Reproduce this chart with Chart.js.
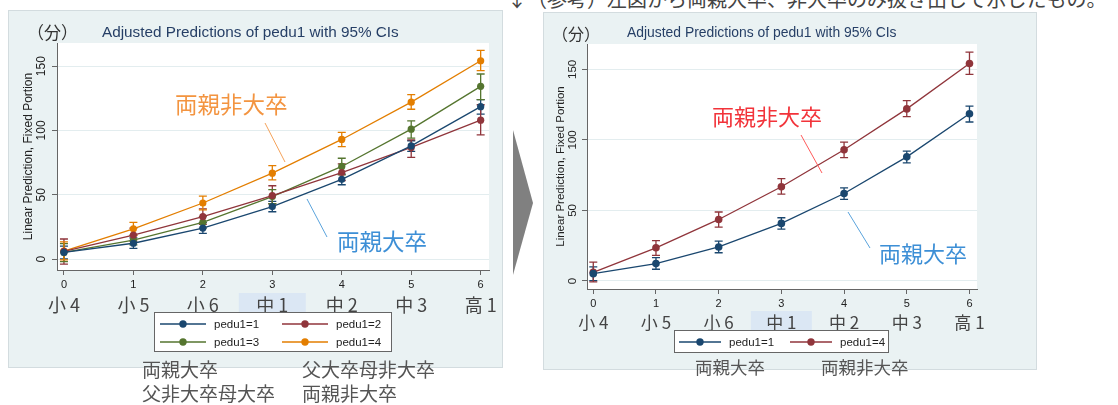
<!DOCTYPE html>
<html>
<head>
<meta charset="utf-8">
<script src="https://cdn.jsdelivr.net/npm/chart.js@4/dist/chart.umd.min.js"></script>
<style>
  body { margin:0; width:1118px; height:405px; background:#fff; position:relative; overflow:hidden;
         font-family:"Noto Sans CJK JP", sans-serif; }
  .abs { position:absolute; white-space:nowrap; line-height:1; }
  .panel { position:absolute; background:#eaf2f3; border:1px solid #d3dcdf; box-sizing:border-box; }
  .ttl { font-family:"Liberation Sans", Arial, sans-serif; color:#263f66; }
  .unit { color:#333; }
  .note { color:#555; }
  .legend { position:absolute; background:#fff; border:1px solid #666; box-sizing:border-box; }
  .legend .it { position:absolute; font:11.5px "Liberation Sans", Arial, sans-serif; color:#222; display:flex; align-items:center; }
  canvas { position:absolute; }
</style>
</head>
<body>
<div class="abs note" style="left:507px;top:-11px;font-size:20px;color:#444;">↓（参考）左図から両親大卒、非大卒のみ抜き出して示したもの。</div>

<div class="panel" style="left:8px;top:10px;width:495px;height:358px;"></div>
<div class="panel" style="left:543px;top:12px;width:494px;height:358px;"></div>

<canvas id="left" width="495" height="358" style="left:8px;top:10px;"></canvas>
<canvas id="right" width="494" height="358" style="left:543px;top:12px;"></canvas>

<div class="abs unit" style="left:27px;top:23px;font-size:17px;">（分）</div>
<div class="abs ttl" style="left:102px;top:24px;font-size:15.3px;">Adjusted Predictions of pedu1 with 95% CIs</div>
<div class="abs unit" style="left:552px;top:25px;font-size:16px;">（分）</div>
<div class="abs ttl" style="left:627px;top:26px;font-size:13.9px;">Adjusted Predictions of pedu1 with 95% CIs</div>

<svg class="abs" width="1118" height="405" style="left:0;top:0;">
  <polygon points="513,130 533,203 513,275" fill="#808080"/>
  <line x1="265" y1="123" x2="285" y2="162" stroke="#f5a25a" stroke-width="1"/>
  <line x1="307" y1="199" x2="327" y2="237" stroke="#5aa3dc" stroke-width="1"/>
  <line x1="801" y1="135" x2="822" y2="173" stroke="#ff5a5a" stroke-width="1"/>
  <line x1="848" y1="212" x2="870" y2="248" stroke="#5aa3dc" stroke-width="1"/>
</svg>

<div class="abs" style="left:175px;top:92px;font-size:22.5px;color:#f39440;">両親非大卒</div>
<div class="abs" style="left:337px;top:229px;font-size:22.5px;color:#3d8fd6;">両親大卒</div>
<div class="abs" style="left:712px;top:104px;font-size:22px;color:#f2333a;">両親非大卒</div>
<div class="abs" style="left:879px;top:241px;font-size:22px;color:#3d8fd6;">両親大卒</div>

<div id="legL" class="legend" style="left:154px;top:312px;width:238px;height:40px;"></div>
<div id="legR" class="legend" style="left:674px;top:330px;width:215px;height:23px;"></div>

<div class="abs note" style="left:142px;top:359px;font-size:19px;">両親大卒</div>
<div class="abs note" style="left:142px;top:383px;font-size:19px;">父非大卒母大卒</div>
<div class="abs note" style="left:302px;top:359px;font-size:19px;">父大卒母非大卒</div>
<div class="abs note" style="left:302px;top:383px;font-size:19px;">両親非大卒</div>
<div class="abs note" style="left:695px;top:358px;font-size:17.5px;">両親大卒</div>
<div class="abs note" style="left:821px;top:358px;font-size:17.5px;">両親非大卒</div>

<script>
// 学年（x）と目盛
const xVals = [0, 1, 2, 3, 4, 5, 6];
const grades = ['小 4', '小 5', '小 6', '中 1', '中 2', '中 3', '高 1'];
const yTicks = [0, 50, 100, 150];
const highlightGrade = 3;

// 予測値と95%CI
const seriesNames = ['pedu1=1', 'pedu1=2', 'pedu1=3', 'pedu1=4'];
const seriesColors = ['#1a476f', '#90353b', '#55752f', '#e37e00'];
const pedu1 = [5.2, 12.3, 24.1, 40.8, 62, 88, 118.5];
const pedu1Lo = [0.2, 8.3, 20, 36.8, 57.8, 83.7, 112.7];
const pedu1Hi = [10, 16.5, 28.3, 44.8, 66, 92, 124];
const pedu2 = [6, 18.7, 33, 49.4, 67.3, 86.8, 108];
const pedu2Lo = [-3.9, 14, 27, 43, 61, 79, 96.6];
const pedu2Hi = [15.6, 24, 39, 57, 74, 92.7, 120];
const pedu3 = [5.2, 14.8, 28.6, 48.6, 72, 101, 134.3];
const pedu3Lo = [-2, 11, 24, 43, 65.5, 94, 124];
const pedu3Hi = [12, 18.5, 33, 54, 78.4, 107.5, 143.9];
const pedu4 = [6.1, 23.5, 43.6, 66.8, 93, 122, 154.2];
const pedu4Lo = [-0.7, 18.2, 38.2, 61.6, 87.5, 116.5, 146.5];
const pedu4Hi = [13.3, 28.6, 48.9, 72.6, 98.5, 127.8, 162.2];

const allY = [pedu1, pedu2, pedu3, pedu4];
const allLo = [pedu1Lo, pedu2Lo, pedu3Lo, pedu4Lo];
const allHi = [pedu1Hi, pedu2Hi, pedu3Hi, pedu4Hi];

function makeSet(i, colorIdx, ptR) {
  const c = seriesColors[colorIdx];
  return {
    label: seriesNames[i],
    data: xVals.map((x, k) => ({ x: x, y: allY[i][k] })),
    lo: allLo[i], hi: allHi[i],
    borderColor: c, backgroundColor: c, pointBackgroundColor: c,
    borderWidth: 1.3, pointRadius: ptR, pointBorderWidth: 0, tension: 0
  };
}

// Stata風の描画（白い描画領域、CI、回転ラベル、学年ラベル）
const stataPlugin = {
  id: 'stata',
  beforeDraw(chart) {
    const { ctx, chartArea: a } = chart;
    ctx.save();
    ctx.fillStyle = '#fff';
    ctx.fillRect(a.left, a.top, a.right - a.left, a.bottom - a.top);
    ctx.restore();
  },
  beforeDatasetsDraw(chart, args, o) {
    const { ctx, scales: { x, y } } = chart;
    ctx.save();
    chart.data.datasets.forEach(ds => {
      ctx.strokeStyle = ds.borderColor;
      ctx.lineWidth = 1.3;
      ds.data.forEach((p, k) => {
        const px = x.getPixelForValue(p.x);
        const y1 = y.getPixelForValue(ds.lo[k]);
        const y2 = y.getPixelForValue(ds.hi[k]);
        ctx.beginPath();
        ctx.moveTo(px, y1); ctx.lineTo(px, y2);
        ctx.moveTo(px - o.cap, y1); ctx.lineTo(px + o.cap, y1);
        ctx.moveTo(px - o.cap, y2); ctx.lineTo(px + o.cap, y2);
        ctx.stroke();
      });
    });
    ctx.restore();
  },
  afterDraw(chart, args, o) {
    const { ctx, chartArea: a, scales: { x, y } } = chart;
    ctx.save();
    // y tick labels, rotated
    ctx.fillStyle = '#222';
    ctx.font = o.yFont + 'px "Liberation Sans", Arial, sans-serif';
    ctx.textAlign = 'center';
    ctx.textBaseline = 'middle';
    yTicks.forEach(v => {
      ctx.save();
      ctx.translate(o.yLabelX, y.getPixelForValue(v));
      ctx.rotate(-Math.PI / 2);
      ctx.fillText(String(v), 0, 0);
      ctx.restore();
    });
    // y title
    ctx.save();
    ctx.translate(o.yTitleX, (a.top + a.bottom) / 2 + o.yTitleShift);
    ctx.rotate(-Math.PI / 2);
    ctx.fillText('Linear Prediction, Fixed Portion', 0, 0);
    ctx.restore();
    // highlighted grade
    const hx = x.getPixelForValue(xVals[highlightGrade]);
    ctx.fillStyle = '#dbe7f4';
    ctx.fillRect(hx - o.hlW / 2, a.bottom + o.hlTop, o.hlW, o.hlH);
    // grade labels
    ctx.fillStyle = '#444';
    ctx.font = o.catFont + 'px "Noto Sans CJK JP", sans-serif';
    grades.forEach((g, k) => {
      ctx.fillText(g, x.getPixelForValue(xVals[k]), a.bottom + o.catY);
    });
    ctx.restore();
  }
};

function makeChart(id, datasets, yMin, pad, xH, opt) {
  return new Chart(document.getElementById(id), {
    type: 'line',
    data: { datasets: datasets },
    options: {
      responsive: false,
      animation: false,
      devicePixelRatio: 1,
      layout: { padding: pad },
      plugins: { legend: { display: false }, tooltip: { enabled: false }, stata: opt },
      scales: {
        x: {
          type: 'linear', min: -0.1, max: 6.12,
          afterBuildTicks: s => { s.ticks = xVals.map(v => ({ value: v })); },
          afterFit: s => { s.height = xH; },
          ticks: { color: '#222', font: { family: '"Liberation Sans", Arial, sans-serif', size: 11 }, padding: 3 },
          grid: { drawOnChartArea: false, tickLength: 5, color: '#666', tickColor: '#666' },
          border: { color: '#666', width: 1 }
        },
        y: {
          min: yMin, max: 168,
          afterBuildTicks: s => { s.ticks = yTicks.map(v => ({ value: v })); },
          afterFit: s => { s.width = 0; },
          ticks: { display: false },
          grid: { color: '#e3edef', lineWidth: 1, tickLength: 5, tickColor: '#666' },
          border: { color: '#666', width: 1 }
        }
      }
    },
    plugins: [stataPlugin]
  });
}

makeChart('left',
  [makeSet(0, 0, 3.6), makeSet(1, 1, 3.6), makeSet(2, 2, 3.6), makeSet(3, 3, 3.6)],
  -8.5, { left: 49, top: 33, right: 14, bottom: 0 }, 98,
  { cap: 4, yFont: 12, yLabelX: 34, yTitleX: 21, yTitleShift: 0, hlW: 67, hlTop: 23, hlH: 20, catY: 35, catFont: 18 });

makeChart('right',
  [makeSet(0, 0, 3.8), makeSet(3, 1, 3.8)],
  -5.7, { left: 44, top: 32, right: 60, bottom: 0 }, 81,
  { cap: 4, yFont: 11.5, yLabelX: 30, yTitleX: 18, yTitleShift: 0, hlW: 61, hlTop: 22, hlH: 21, catY: 34, catFont: 17 });

// 凡例
function legendItem(box, name, color, left, top, lineW) {
  const el = document.createElement('div');
  el.className = 'it';
  el.style.left = left + 'px';
  el.style.top = top + 'px';
  el.innerHTML = '<svg width="' + lineW + '" height="10" style="margin-right:8px">' +
    '<line x1="0" y1="5" x2="' + lineW + '" y2="5" stroke="' + color + '" stroke-width="1.3"/>' +
    '<circle cx="' + lineW / 2 + '" cy="5" r="3.7" fill="' + color + '"/></svg>' + name;
  box.appendChild(el);
}
const legL = document.getElementById('legL');
legendItem(legL, seriesNames[0], seriesColors[0], 5, 5, 46);
legendItem(legL, seriesNames[1], seriesColors[1], 127, 5, 46);
legendItem(legL, seriesNames[2], seriesColors[2], 5, 23, 46);
legendItem(legL, seriesNames[3], seriesColors[3], 127, 23, 46);
const legR = document.getElementById('legR');
legendItem(legR, seriesNames[0], seriesColors[0], 4, 5, 42);
legendItem(legR, seriesNames[3], seriesColors[1], 115, 5, 42);
</script>
</body>
</html>
